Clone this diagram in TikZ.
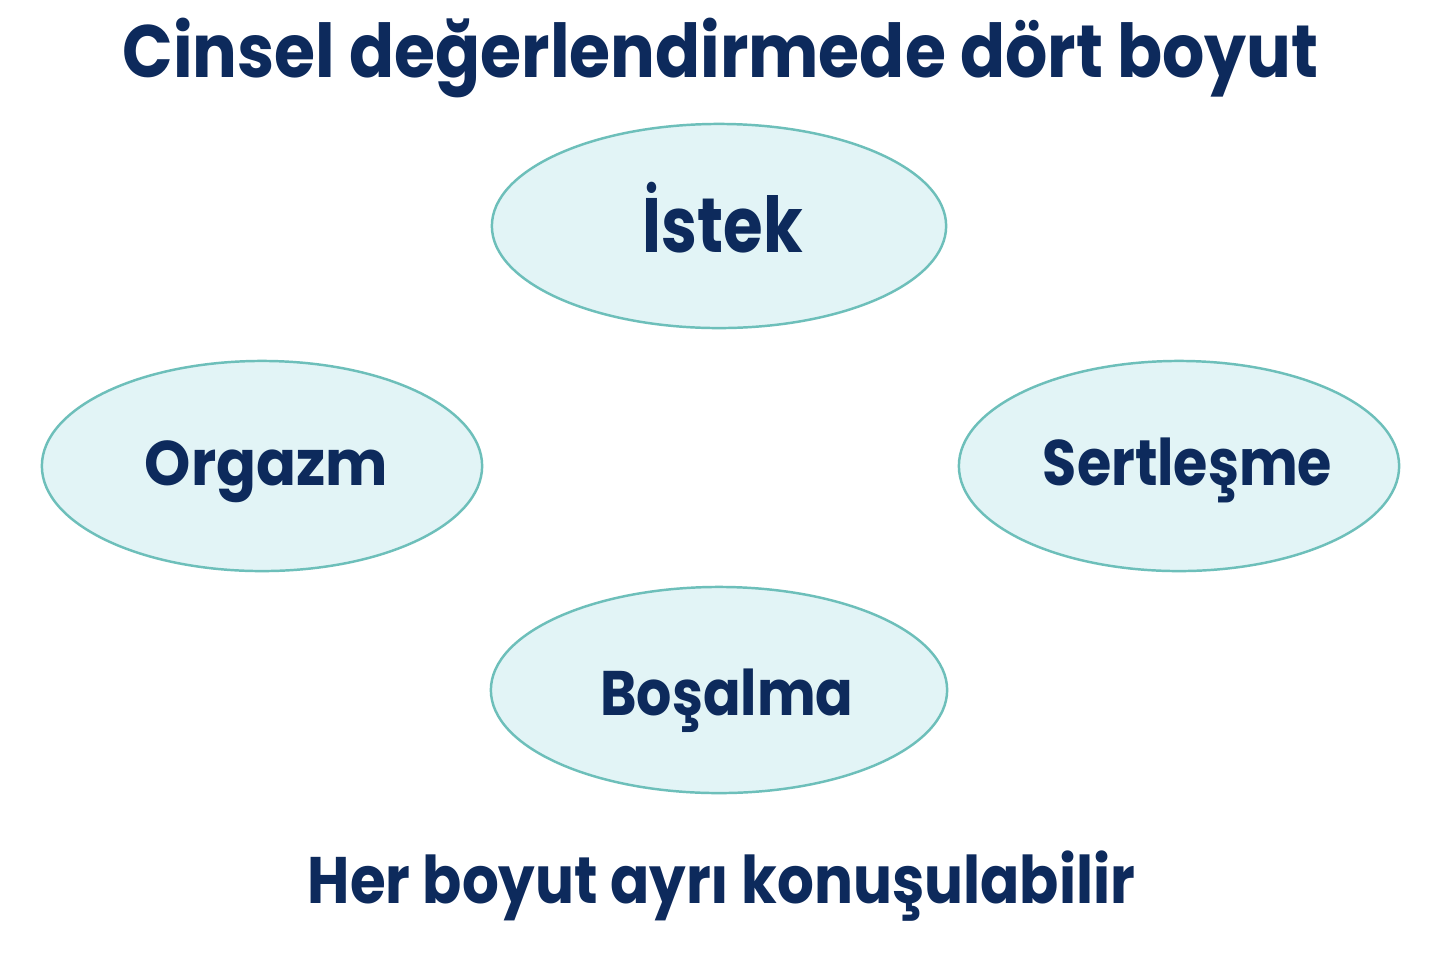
\documentclass[tikz,border=0pt]{standalone}
\usepackage{fontspec}
\usepackage{graphicx}
\setmainfont{Poppins}
\usetikzlibrary{shapes.geometric}
\definecolor{navy}{HTML}{0D2A5C}
\definecolor{cfill}{HTML}{E2F4F6}
\definecolor{cline}{HTML}{6DBFBA}
\newcommand{\fitw}[3]{{\fontsize{#1}{#1}\selectfont\bfseries\resizebox{#2}{\height}{#3}}}
\begin{document}
\begin{tikzpicture}[x=0.01cm,y=-0.01cm,
  dim/.style={ellipse,draw=cline,fill=cfill,line width=0.7pt,inner sep=0pt},
  lbl/.style={text=navy,inner sep=0pt,anchor=base}]
\useasboundingbox[fill=white] (0,0) rectangle (1440,960);
\node[dim,minimum width=4.54cm,minimum height=2.04cm] (istek) at (719,226) {};
\node[dim,minimum width=4.40cm,minimum height=2.10cm] (orgazm) at (262,466) {};
\node[dim,minimum width=4.40cm,minimum height=2.10cm] (sert) at (1179,466) {};
\node[dim,minimum width=4.56cm,minimum height=2.06cm] (bosalma) at (719,690) {};
\node[lbl] (title) at (720.5,77) {\fitw{21.1pt}{11.95cm}{Cinsel değerlendirmede dört boyut}};
\node[lbl] (tistek) at (723,252) {\fitw{21.9pt}{1.60cm}{İstek}};
\node[lbl] (torgazm) at (266.5,485) {\fitw{17.9pt}{2.43cm}{Orgazm}};
\node[lbl] (tsert) at (1187.5,485) {\fitw{18.3pt}{2.89cm}{Sertleşme}};
\node[lbl] (tbosalma) at (727,715) {\fitw{17.9pt}{2.53cm}{Boşalma}};
\node[lbl] (alt) at (721.5,903) {\fitw{18.7pt}{8.27cm}{Her boyut ayrı konuşulabilir}};
\end{tikzpicture}
\end{document}
